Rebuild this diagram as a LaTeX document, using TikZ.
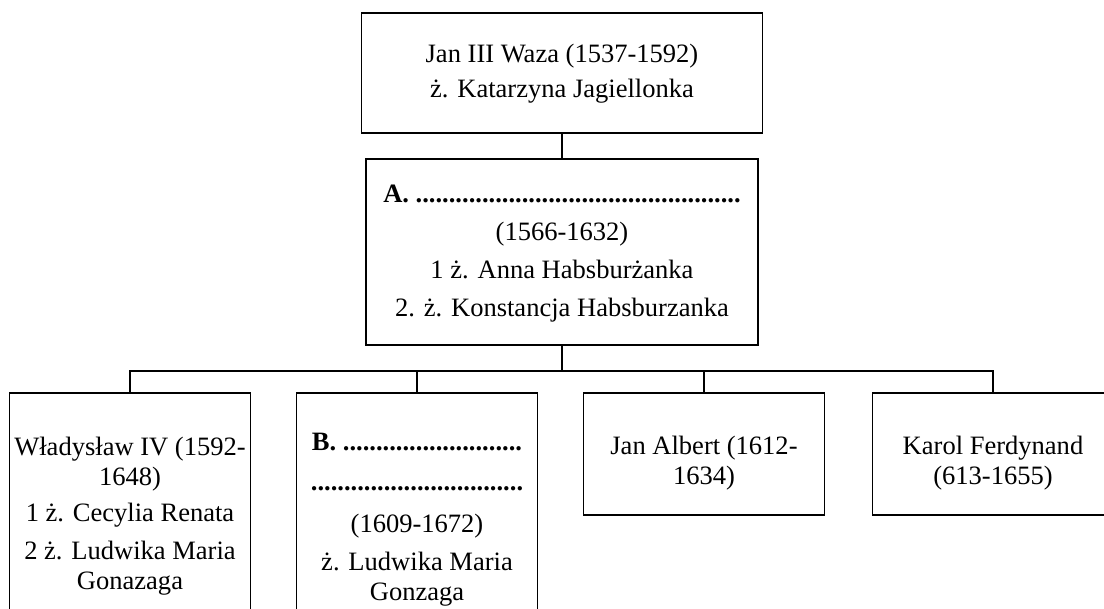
\documentclass[tikz,border=0pt]{standalone}
\usepackage{fontspec}
\setmainfont{Liberation Serif}
\newcommand{\kropki}[1]{\foreach \k in {1,...,#1}{.}}
\tikzset{
  ramka/.style={draw, line width=1.3pt, inner sep=0pt},
  opis/.style={align=center, inner sep=0pt, font=\fontsize{19.9}{22.5}\selectfont}
}
\begin{document}
\begin{tikzpicture}[x=0.75pt, y=-0.75pt]
            \useasboundingbox (0,0) rectangle (1104,608);

            \node[ramka, minimum width=300.75pt, minimum height=90pt] (jan) at (562,73) {};
            \node[ramka, minimum width=294pt, minimum height=139.5pt] (syn) at (562,252) {};
            \node[ramka, minimum width=180.75pt, minimum height=185.25pt] (wlad) at (130,516.5) {};
            \node[ramka, minimum width=180.75pt, minimum height=185.25pt] (jk) at (417,516.5) {};
            \node[ramka, minimum width=180.75pt, minimum height=91.5pt] (albert) at (704,454) {};
            \node[ramka, minimum width=180.75pt, minimum height=91.5pt] (karol) at (993,454) {};

            \node[opis] (tjan) at (562,74) {Jan III Waza (1537-1592)\\[3.75pt] ż. Katarzyna Jagiellonka};
            \node[opis] (tsyn) at (562,254) {\textbf{A. \kropki{49}}\\[6pt] (1566-1632)\\[6pt]
                1 ż. Anna Habsburżanka\\[6pt] 2. ż. Konstancja Habsburzanka};
            \node[opis] (twlad) at (130,516) {Władysław IV (1592-\\ 1648)\\[5pt]
                1 ż. Cecylia Renata\\[6pt] 2 ż. Ludwika Maria\\ Gonazaga};
            \node[opis] (tjk) at (417,520) {\textbf{B. \kropki{27}}\\[7.5pt] \textbf{\kropki{32}}\\[9pt]
                (1609-1672)\\[6pt] ż. Ludwika Maria\\ Gonzaga};
            \node[opis] (talbert) at (704,463) {Jan Albert (1612-\\ 1634)};
            \node[opis] (tkarol) at (993,463) {Karol Ferdynand\\ (613-1655)};

            \coordinate (szyna) at (562,371);

            \draw[line width=1.3pt] (jan.south) -- (syn.north);
            \draw[line width=1.8pt] (syn.south) -- (szyna);
            \draw[line width=1.3pt] (szyna) -| (wlad.north);
            \draw[line width=1.3pt] (szyna) -| (jk.north);
            \draw[line width=1.3pt] (szyna) -| (albert.north);
            \draw[line width=1.3pt] (szyna) -| (karol.north);
        \end{tikzpicture}
\end{document}
